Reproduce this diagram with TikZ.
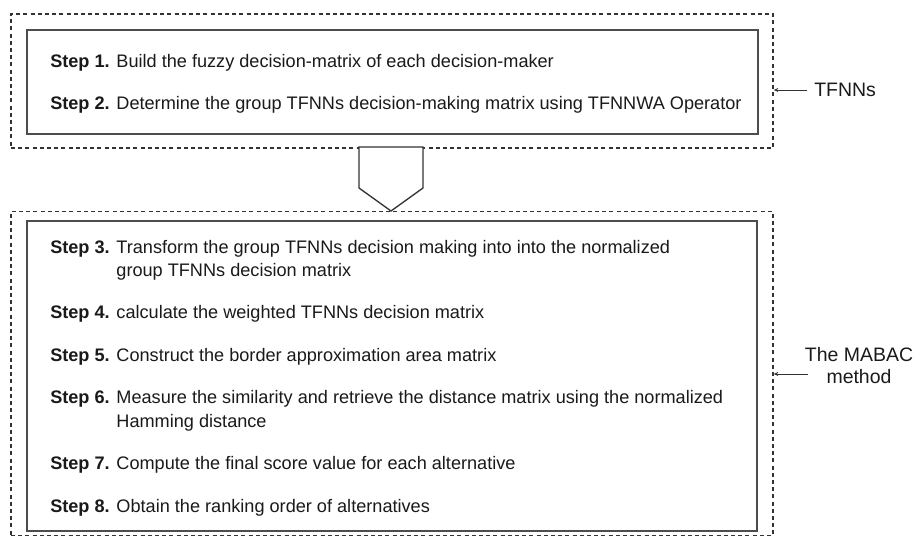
\documentclass[tikz,border=0pt]{standalone}
\usepackage{fontspec}
\setmainfont{Liberation Sans}
\usepackage{xcolor}
\usetikzlibrary{positioning,arrows.meta,shadows}
\definecolor{inkgray}{HTML}{1A1A1A}
\definecolor{boxgray}{HTML}{4D4D4D}
\definecolor{dashgray}{HTML}{333333}
\newcommand{\steprow}[2]{%
  \begin{tabular}[t]{@{}l@{ }l@{}}\textbf{Step #1.} & #2\end{tabular}}
\tikzset{
  group box/.style={
    rectangle,
    draw=dashgray,
    line width=1pt,
    dash pattern=on 3pt off 2.4pt,
    inner sep=0pt,
  },
  step box/.style={
    rectangle,
    draw=boxgray,
    line width=0.8pt,
    fill=white,
    inner sep=0pt,
    drop shadow={shadow xshift=0.9pt,shadow yshift=-0.9pt,opacity=0.3},
  },
  step line/.style={
    inner sep=0pt,
    text=inkgray,
    font=\fontsize{13.6}{17.5}\selectfont,
  },
  side label/.style={
    inner sep=0pt,
    text=inkgray,
    align=center,
    font=\fontsize{14.6}{16.5}\selectfont,
  },
  side arrow/.style={-{Stealth[length=3.5pt,width=3pt]}, line width=0.7pt, draw=dashgray},
  down arrow/.style={line width=1pt, draw=dashgray, fill=white},
}

\begin{document}
\begin{tikzpicture}[x=0.75pt,y=-0.75pt,node distance=14pt]
  \useasboundingbox (0,0) rectangle (914,546);

  % TFNNs part
  \node[group box,minimum width=571.5pt,minimum height=100.5pt] (tfnnouter) at (392,81) {};
  \node[step box,minimum width=548.25pt,minimum height=78pt] (tfnninner) at (392.5,82) {};
  \node[step line,anchor=base west] (s1) at (50,67)
    {\steprow{1}{Build the fuzzy decision-matrix of each decision-maker}};
  \node[step line,below=of s1.south west,anchor=north west] (s2)
    {\steprow{2}{Determine the group TFNNs decision-making matrix using TFNNWA Operator}};

  % MABAC part
  \node[group box,minimum width=571.5pt,minimum height=243pt] (mabacouter) at (392,373.5) {};
  \node[step box,minimum width=547.5pt,minimum height=232.5pt] (mabacinner) at (392,376) {};
  \node[step line,anchor=base west] (s3) at (50,253)
    {\steprow{3}{Transform the group TFNNs decision making into into the normalized\\ & group TFNNs decision matrix}};
  \node[step line,below=of s3.south west,anchor=north west] (s4)
    {\steprow{4}{calculate the weighted TFNNs decision matrix}};
  \node[step line,below=of s4.south west,anchor=north west] (s5)
    {\steprow{5}{Construct the border approximation area matrix}};
  \node[step line,below=of s5.south west,anchor=north west] (s6)
    {\steprow{6}{Measure the similarity and retrieve the distance matrix using the normalized\\ & Hamming distance}};
  \node[step line,below=of s6.south west,anchor=north west] (s7)
    {\steprow{7}{Compute the final score value for each alternative}};
  \node[step line,below=of s7.south west,anchor=north west] (s8)
    {\steprow{8}{Obtain the ranking order of alternatives}};

  % pentagon between the parts
  \draw[down arrow] (359,147) -- (423,147) -- (423,188) -- (391,211) -- (359,188) -- cycle;

  % side labels
  \node[side label,anchor=west] (tfnnlab) at (814,90) {TFNNs};
  \draw[side arrow] ([xshift=-5pt]tfnnlab.west) -- (tfnnlab.west -| tfnnouter.east);
  \node[side label] (mabaclab) at (859,366) {The MABAC\\method};
  \coordinate (mabacfrom) at (808,374);
  \draw[side arrow] (mabacfrom) -- (mabacfrom -| mabacouter.east);
\end{tikzpicture}
\end{document}
